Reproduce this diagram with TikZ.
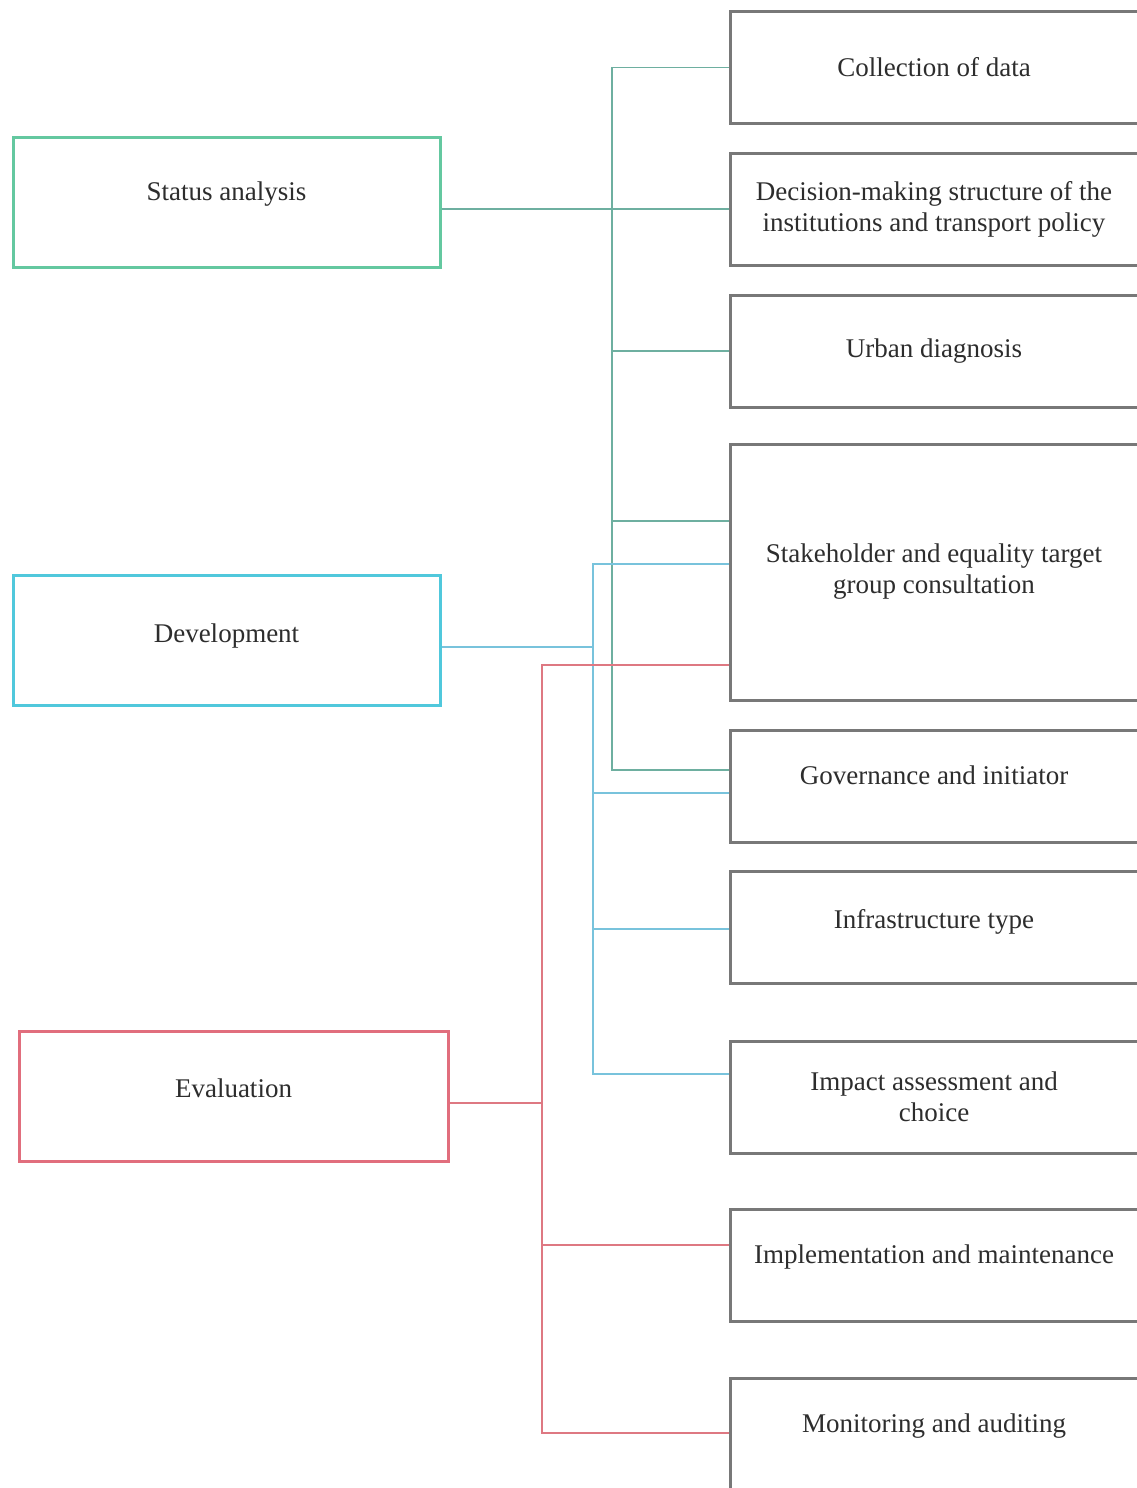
\documentclass[tikz,border=0pt]{standalone}
\usepackage{fontspec}
\setmainfont{Liberation Serif}
\usepackage{xcolor}
\usepackage{tikz}
\usetikzlibrary{positioning}

\definecolor{statcol}{RGB}{100,200,160}
\definecolor{statln}{RGB}{110,175,160}
\definecolor{devcol}{RGB}{80,200,220}
\definecolor{devln}{RGB}{120,195,220}
\definecolor{evalcol}{RGB}{225,110,125}
\definecolor{evalln}{RGB}{222,120,130}
\definecolor{boxgray}{RGB}{120,120,120}
\definecolor{txtgray}{RGB}{45,45,45}

\begin{document}
\begin{tikzpicture}[
  x=0.5pt, y=-0.5pt,
  phase/.style={draw, line width=1.5pt, minimum width=213.5pt, minimum height=65pt, fill=white, text=txtgray, font=\fontsize{13.5}{15.5}\selectfont, align=center},
  task/.style={draw=boxgray, line width=1.5pt, minimum width=204pt, minimum height=56pt, fill=white, text=txtgray, font=\fontsize{13.5}{15.5}\selectfont, align=center},
  lift/.style={text height=9pt, text depth=11pt},
  link/.style={line width=0.75pt}
]
  \useasboundingbox (0,0) rectangle (1136,1488);

  % 1. Phases (left column)
  \node[phase, lift, draw=statcol] (stat) at (226.5, 202) {Status analysis};
  \node[phase, draw=devcol, text height=9pt, text depth=7pt] (dev) at (226.5, 640) {Development};
  \node[phase, draw=evalcol, text height=9pt, text depth=8pt, minimum width=214.5pt] (eval) at (233.5, 1096.5) {Evaluation};

  % 2. Tasks (right column)
  \node[task] (coll) at (934, 67.5) {Collection of data};
  \node[task] (dec) at (934, 209) {Decision-making structure of the\\institutions and transport policy};
  \node[task] (urb) at (934, 351) {Urban diagnosis};
  \node[task, minimum height=128pt] (stake) at (934, 572) {Stakeholder and equality target\\group consultation};
  \node[task, lift] (gov) at (934, 786.5) {Governance and initiator};
  \node[task, text height=9pt, text depth=8pt] (infra) at (934, 927.5) {Infrastructure type};
  \node[task] (imp) at (934, 1097) {Impact assessment and\\choice};
  \node[task, lift] (impl) at (934, 1265.5) {Implementation and maintenance};
  \node[task, lift] (mon) at (934, 1434) {Monitoring and auditing};

  % Trunks
  \coordinate (strunk) at (612, 770);
  \coordinate (dtrunk) at (593, 1074);
  \coordinate (etrunk) at (542, 1433);

  % 3. Status analysis links
  \draw[link, statln] (stat.east |- dec.west) -- (dec.west);
  \draw[link, statln] (coll.west) -| (strunk) -- (gov.west |- strunk);
  \draw[link, statln] (urb.west) -- (urb.west -| strunk);
  \draw[link, statln] (stake.west |- 0,521) -- (strunk |- 0,521);

  % 4. Development links
  \draw[link, devln] (dev.east |- 0,647) -- (dtrunk |- 0,647);
  \draw[link, devln] (stake.west |- 0,564) -| (dtrunk) -- (imp.west |- dtrunk);
  \draw[link, devln] (gov.west |- 0,793) -- (dtrunk |- 0,793);
  \draw[link, devln] (infra.west |- 0,929) -- (dtrunk |- 0,929);

  % 5. Evaluation links
  \draw[link, evalln] (eval.east |- 0,1103) -- (etrunk |- 0,1103);
  \draw[link, evalln] (stake.west |- 0,665) -| (etrunk) -- (mon.west |- etrunk);
  \draw[link, evalln] (impl.west |- 0,1245) -- (etrunk |- 0,1245);

\end{tikzpicture}
\end{document}
